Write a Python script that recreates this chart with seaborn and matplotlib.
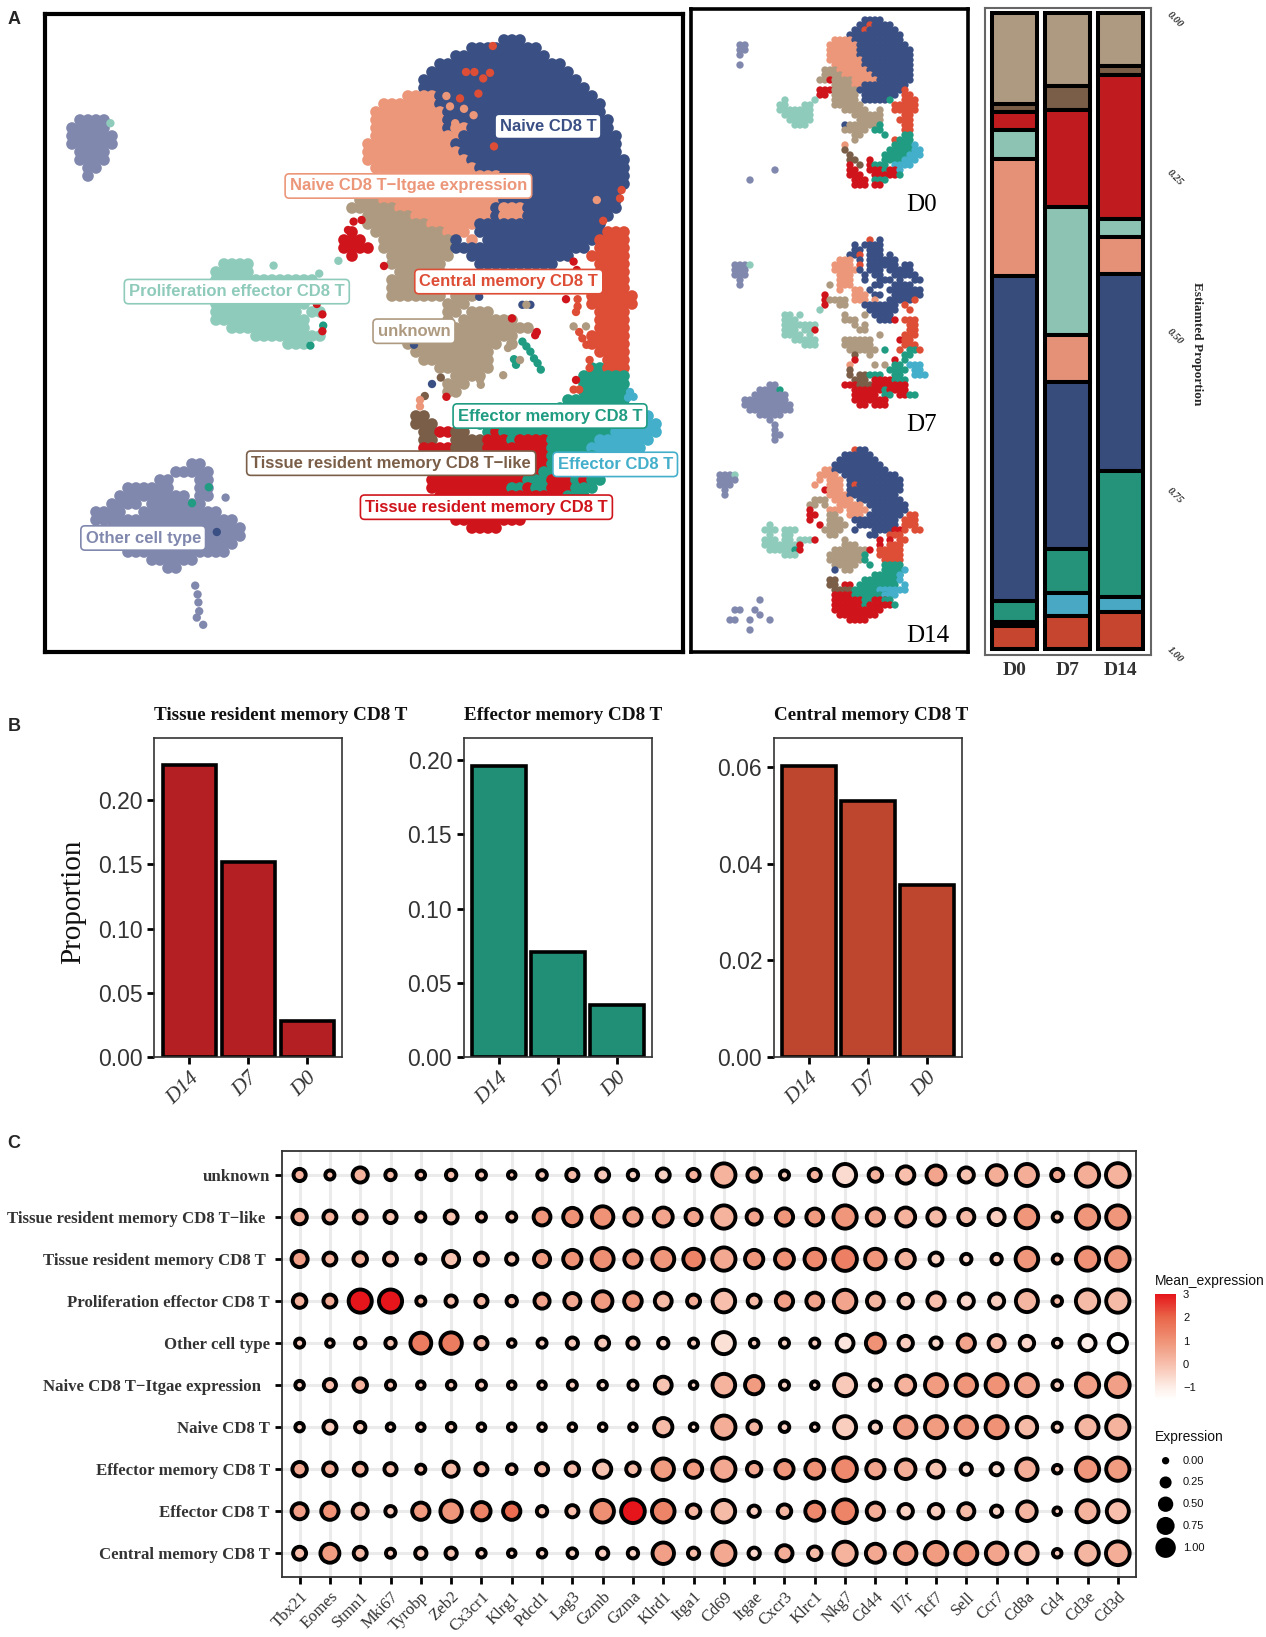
import numpy as np
import pandas as pd
import matplotlib
matplotlib.use('Agg')
import matplotlib.pyplot as plt
import seaborn as sns
from matplotlib.colors import LinearSegmentedColormap, Normalize
from matplotlib.cm import ScalarMappable

W, H = 1266, 1637

# colours of the cell types
cell_colors = {'n': '#3A4F83', 's': '#EC967A', 't': '#AE9A80', 'm': '#8FCBBB', 'r': '#D0141B',
               'o': '#DE4D35', 'g': '#1F9C82', 'b': '#43AFCB', 'w': '#7A5E48', 'v': '#8188AE'}

# main umap as (row, first column, cells)
main_rows = [
    (5, 63, 'nnn'), (6, 59, 'nnnnnnnnn'), (7, 57, 'nnnnnnnnnnnn'), (8, 55, 'nnnnnnnnnnnnnnnn'),
    (9, 54, 'nnnnnnnnnnnnnnnnnn'), (10, 53, 'nnnnnnnnnnnnnnnnnnnn'), (11, 53, 'nnnnnnnnnnnnnnnnnnnnn'),
    (12, 51, 'ssssnnnnnnnnnnnnnnnnnnnn'), (13, 48, 'sssssssnnnnnnnnnnnnnnnnnnnnn'),
    (14, 47, 'sssssssssnnnnnnnnnnnnnnnnnnnn'), (15, 47, 'sssssssssnnnnnnnnnnnnnnnnnnnnn'),
    (16, 47, 'sssssssssnssnnnnnnnnnnnnnnnnnn'), (17, 47, 'sssssssssssnnnnnnnnnnnnnnnnnnnn'),
    (18, 46, 'sssssssssssnnnnnnnnnnnnnnnnnnnnn'), (19, 46, 'ssssssssssssnnnnnnnnnnnnnnnnnnnn'),
    (20, 46, 'sssssssssssssnnnnnnnnnnnnnnnnnnnn'), (21, 47, 'sssssssssssssnnnnnnnnnnnnnnnnnnn'),
    (22, 48, 'sssssssssssssssnnnnnnnnnnnnnnnn'), (23, 48, 'sssssssssssssssnnnnnnnnnnnnnnnn'),
    (24, 46, 'tttssssssssssssssnnnnnnnnnnnnnnn'), (25, 45, 'tttsssssssssssssssnnnnnnnnnnnnnnn'),
    (26, 44, 'ttttttssssssssssssnsssnnnnnnnnnnnn'), (27, 46, 'ttttttssssssssssnsssnnnnnnnnnnn'),
    (28, 46, 'ttttttttssssssnnnnnnnnnnnnnnnn'), (29, 47, 'tttttttttsss nnnnnnnnnnnnnnnnooo'),
    (30, 48, 'tttttttttn s nnnnnnnnnnnnnnoooo'), (31, 48, 'tttttttttnnnnnnnnnnnnnnnnn oooo'),
    (32, 49, 'tttttttt  nnnnnnnnnnnnn  ooooo'), (33, 49, 'ttttttt    nnnnnnnnnn'), (33, 75, 'oooo'),
    (34, 50, 'tttttt'), (34, 75, 'oooo'), (35, 49, 'tttttt'), (35, 75, 'oooo'),
    (36, 49, 'tttttttttt'), (36, 75, 'oooo'), (37, 49, 'ttttttt ttt'), (37, 74, 'oooooo'),
    (38, 56, 'ttt'), (38, 74, 'oooooo'), (39, 56, 'tt ttt'), (39, 75, 'oooo'),
    (40, 56, 't ttttttt'), (40, 75, 'oooo'), (41, 57, 'tttttttttt'), (41, 75, 'oooo'),
    (42, 57, 'tttttttt'), (42, 74, 'ooooo'), (43, 51, 'tttttttttttt t'), (43, 74, 'ooooo'),
    (44, 52, 'tttttttttt'), (44, 75, 'oooo'), (45, 53, 'ttttttttt'), (45, 76, 'ooo'),
    (46, 55, 'ttttttt'), (46, 74, 'ggooo'), (47, 57, 'tttt'), (47, 73, 'gggggg'),
    (48, 56, 'ttt'), (48, 73, 'gggggg'), (49, 56, 'tt'), (49, 73, 'gggggg'),
    (50, 71, 'gggggggg'), (51, 70, 'ggggggggg'), (52, 52, 'ww'), (52, 70, 'gggggggggbbb'),
    (53, 52, 'www'), (53, 60, 'gggggggggggggggggggbbbb'), (54, 53, 'wwrrww'), (54, 61, 'grggggggggggggggbbbbbb'),
    (55, 53, 'ww'), (55, 57, 'wwww'), (55, 61, 'rrrgrrrrggggggbbbbbbb'),
    (56, 53, 'rrrrwwwwrrrrrrrrgggggbbbbbbb'), (57, 53, 'rrrrwwwwrrrrrrrrggggggbbbbb'),
    (58, 53, 'rrrrrrrrrrrrrrrrgggggggggg'), (59, 54, 'rrrrrrrrrrrrrrgggggggg'),
    (60, 54, 'rrrrrrrrrrrrgggrrrgrgg'), (61, 54, 'rrrrrrrrrrggrggrrrggg'),
    (62, 55, 'rrrrrrrrrrrrrrrrggg'), (63, 56, 'rrrrrrrrrrrrrr'), (64, 56, 'rrrrrrrrrrrrr'),
    (65, 57, 'rrrrrrrrr'), (66, 59, 'rrrr'),
    (29, 44, 'r'), (30, 43, 'rrr'), (31, 43, 'rrrr'), (32, 44, 'r'),
    (15, 10, 'vvvv'), (16, 9, 'vvvvv'), (17, 9, 'vvvvvv'), (18, 9, 'vvvvvv'), (19, 10, 'vvvv'),
    (20, 10, 'vvvv'), (21, 11, 'vv'), (22, 11, 'v'),
    (33, 28, 'mmmm'), (34, 27, 'mmmmm'), (35, 27, 'mmmmmmmmmmmmm'), (36, 27, 'mmmmmmmmmmmmm'),
    (37, 27, 'mmmmmmmmmmmmmm'), (38, 27, 'mmmmmmmmmmmm'), (39, 27, 'mmmmmmmmmmm mm'),
    (40, 27, 'mmmmmmmmmmmm'), (41, 29, 'mmmmmmmmmm'), (42, 32, 'mmmmmmmmm'), (43, 36, 'mmm'),
    (58, 24, 'vv'), (59, 22, 'vvvvv'), (60, 20, 'vv'), (60, 25, 'vv'), (61, 16, 'vvvvvv'), (61, 25, 'vv'),
    (62, 15, 'vvvvvvvvv'), (62, 25, 'vv'), (63, 14, 'vvvv vvvvvvv'), (64, 12, 'vvvv  vvvvvvvvvv'),
    (65, 12, 'vvvvvvvvvvvvvvvvvv'), (66, 14, 'vvvvvvvvvvvvvvvvv'),
    (67, 12, 'vvvvvvvvvvvvvvvvvvv'), (68, 15, 'vvvvvvvvvvvvvvv'), (69, 16, 'vvvvvvvvvvvvv'),
    (70, 19, 'vvvvvv'), (71, 21, 'vv'),
]

# single cells of the main umap as (cell, column, row)
main_dots = [
    ('o', 61.6, 5.75), ('o', 58.25, 9), ('o', 59.3, 9), ('o', 61.25, 9.1), ('o', 60.4, 9.8), ('o', 59.8, 11.7),
    ('o', 57.5, 12.3), ('o', 61.75, 18.3), ('o', 77.5, 24.8), ('o', 77.7, 23.75), ('o', 75.4, 27.6),
    ('s', 56.25, 13.3), ('s', 58, 13.6), ('s', 55.8, 12), ('s', 59.2, 14.4), ('s', 56.9, 15.4), ('s', 57.5, 20), ('s', 74.6, 25),
    ('r', 48, 33.25), ('r', 43.5, 28.75), ('r', 44.2, 27.7), ('r', 45.2, 27.5), ('r', 70.75, 37.4), ('r', 67.1, 41.5),
    ('r', 66.9, 41.9), ('r', 64, 39.8), ('r', 71.7, 32.7), ('r', 72.1, 33.75),
    ('n', 65.3, 38.1), ('n', 66.3, 38.1), ('t', 65.8, 38.1), ('n', 59.9, 37.1),
    ('o', 72.2, 37.4), ('o', 72.2, 38.3), ('o', 72, 39), ('o', 72.4, 41.5), ('o', 72.8, 42.3), ('o', 73.3, 43.1),
    ('t', 71.7, 40.8), ('t', 73.25, 40.8),
    ('g', 65.3, 42.7), ('g', 65.8, 43.3), ('g', 66.3, 43.96), ('g', 66.75, 44.8), ('g', 67.2, 45.4), ('g', 67.6, 46.2),
    ('g', 64.25, 44.9), ('g', 64.5, 45.6), ('t', 65, 45), ('t', 63.5, 43.5), ('t', 62.9, 46.9), ('t', 60.1, 48.1), ('t', 60, 47.5),
    ('n', 54, 48), ('n', 51.75, 43.1), ('w', 55.1, 47.2), ('r', 55.8, 49.6), ('w', 53.1, 49.5), ('s', 52.5, 50), ('s', 52.5, 50.8),
    ('o', 73.7, 45), ('o', 73.7, 46), ('r', 72, 47.5), ('o', 71.7, 48.7), ('o', 72.4, 48.7),
    ('b', 78.75, 49), ('b', 78.5, 49.7), ('b', 79.2, 49.6),
    ('m', 42.3, 32.6), ('m', 34.2, 33.2), ('m', 39.9, 34.2), ('r', 39.6, 38), ('r', 40.3, 39.3), ('g', 40.4, 40.7), ('r', 40.3, 41.4),
    ('g', 38.8, 43.2), ('m', 13.8, 15.4),
    ('v', 28.2, 62.2), ('v', 24.4, 73.2), ('v', 24.7, 74.3), ('v', 24.8, 75.3), ('v', 24.9, 76.4), ('v', 24.6, 77.2), ('v', 25.4, 78.1),
    ('g', 26.1, 60.9), ('g', 24, 62.9), ('n', 27.1, 66.5),
]

# labels of the main umap
label_names = ['Naive CD8 T', 'Naive CD8 T\u2212Itgae expression', 'Proliferation effector CD8 T', 'Central memory CD8 T',
               'unknown', 'Effector memory CD8 T', 'Tissue resident memory CD8 T\u2212like', 'Effector CD8 T',
               'Tissue resident memory CD8 T', 'Other cell type']
label_cells = ['n', 's', 'm', 'o', 't', 'g', 'w', 'b', 'r', 'v']
label_cols = [68.5, 51.05, 29.6, 63.6, 51.75, 68.75, 48.9, 76.9, 60.8, 17.9]
label_rows = [15.8, 23.25, 36.45, 35.2, 41.4, 52.0, 57.9, 58.05, 63.4, 67.25]

# small umaps, one list per day
d0_rows = [
    (2, 35, 'nnnn'), (3, 34, 'nnonnnn'), (4, 33, 'nnonnnnnn'), (5, 32, 'nnnnnnnnnnn'), (6, 29, 'ssssnnnnnnnnnn'),
    (7, 28, 'ssssssnnnnnnnnnn'), (8, 28, 'ssssssnnnnnnnnnnn'), (9, 28, 'ssssssnnnnnnnnnnn'), (10, 28, 'sssssssnnnnnnnnnn'),
    (11, 29, 'ssssssnnnnnnnnnn'), (12, 27, 'tttssssssnnnnnnnnn'), (13, 27, 'ttttssssssnnnnnnnn'), (14, 26, 'ttrttttsssssnnnnnnn'),
    (15, 29, 'ttttssnnnnnnnnn'), (16, 26, 'rrr'), (16, 29, 'tttttnnnnnnnnno'), (17, 26, 'rr'), (17, 29, 'ttttt'),
    (17, 35, 'nnnnnnn'), (17, 43, 'oo'), (18, 29, 'ttttt'), (18, 35, 'nnnnn'), (18, 40, 'g'), (18, 43, 'ooo'),
    (19, 29, 'tttttt'), (19, 41, 'ooooo'), (20, 31, 'ttttt'), (20, 38, 't'), (20, 41, 'ooooo'), (21, 33, 'tttttt'), (21, 43, 'oo'),
    (22, 34, 'ttttt'), (22, 42, 'ooo'), (23, 31, 'ntttttt'), (23, 38, 'g'), (23, 43, 'oo'), (24, 31, 'ttttt'), (24, 37, 'gg'),
    (24, 43, 'oo'), (25, 33, 'tt'), (25, 39, 'g'), (25, 43, 'gg'), (26, 33, 't'), (26, 41, 'oggg'), (27, 31, 's'), (27, 41, 'ggggb'),
    (28, 31, 'w'), (28, 40, 'gggggbb'), (29, 32, 'w'), (29, 39, 'gggggbbb'), (30, 32, 'ww'), (30, 36, 'r'), (30, 39, 'ggggbbb'),
    (31, 32, 'r'), (31, 34, 'w'), (31, 36, 'r'), (31, 37, 'ggg'), (31, 41, 'bbbb'), (32, 32, 'rr'), (32, 36, 'rrrgrrb'),
    (33, 32, 'rrr'), (33, 37, 'rrr'), (33, 40, 'rr'), (33, 42, 'g'), (34, 33, 'rrr'), (34, 37, 'ggg'), (35, 33, 'rrr'), (35, 37, 'rr'),
    (7, 10, 'vv'), (8, 10, 'vv'), (9, 10, 'v'), (11, 10, 'v'), (32, 17, 'v'), (34, 12, 'v'),
    (18, 19, 'm'), (18, 25, 'm'), (19, 18, 'mm'), (19, 23, 'mm'), (20, 18, 'mmmmmmm'), (21, 19, 'mmmmmm'), (22, 20, 'mmmmm'), (23, 21, 'mmm'),
]
d7_rows = [
    (3, 36, 'o n'), (4, 33, 'n nnnn'), (5, 33, 'nn nnn'), (6, 32, 'nno nnn n'), (7, 30, 'sss n nnnnnn'), (8, 29, 'ssss o nnnnnn nn'),
    (9, 29, 'sssssn nnn nnnnn'), (10, 30, 'sss  n nn  nnnnn'), (11, 30, 'sss  n  nnn n  nn'), (12, 28, 't ' 'sss    nn  nnnn'),
    (13, 30, 's  ss n   nnnnnnn'), (14, 27, 'r     sss nn  nnnnnn'), (15, 27, 'rtttt sss s  nnnnno'), (16, 27, 'r  tt   nnnnnnn o'),
    (17, 26, 'm'), (17, 36, 'nnnnnn'), (17, 44, 'o'), (18, 19, 'mm'), (18, 22, 'm'), (18, 31, 't'), (18, 35, 't'), (18, 37, 'nnnn'),
    (19, 19, 'mmm'), (19, 31, 'ttt'), (19, 38, 'nnn'), (19, 41, 'r'), (19, 43, 'ooo'), (20, 19, 'mmmmmmm'), (20, 33, 't'), (20, 35, 't'),
    (20, 44, 'oo'), (21, 19, 'mmm'), (21, 23, 'mm'), (21, 25, 'r'), (21, 34, 'tt'), (21, 44, 'oo'), (22, 19, 'mmmm'), (22, 24, 'm'),
    (22, 38, 't'), (22, 43, 'ooo'), (23, 21, 'mmmmm'), (23, 31, 'tttttt'), (23, 42, 'roo'), (24, 23, 'mmm'), (24, 31, 'tttttt'), (24, 43, 'ooo'),
    (25, 32, 'tttttt'), (25, 39, 'g'), (25, 42, 'o ggo'), (26, 33, 'w  t'), (26, 43, 'gg'), (27, 33, 'r'), (27, 41, 'r g'), (28, 32, 's    t t'),
    (28, 41, 'gg'), (28, 44, 'bbb'), (29, 32, 'w'), (29, 40, 'ggg'), (29, 43, 'g bb'), (30, 32, 'w ww'), (30, 36, 'ggg'), (30, 41, 'gg'),
    (30, 45, 'bbb'), (31, 33, 'www'), (31, 37, 'rrrrggg'), (32, 31, 'rrrwwwrrrrrrr'), (33, 33, 'rrrrrrgrrrr'), (34, 33, 'rrrrr gg rrgg'),
    (35, 33, 'rrrrrrr'), (36, 34, 'rr rrr'),
    (8, 9, 'vvvm'), (9, 9, 'vvv'), (10, 9, 'vvv'), (11, 10, 'v'), (12, 10, 'v'),
    (32, 16, 'vv'), (33, 14, 'vvvvg'), (34, 13, 'vvvvvvv'), (35, 11, 'vvvvvvvvv'), (36, 11, 'vvvvvvvvvv'), (37, 12, 'vvvvvvvvv'),
    (38, 14, 'vvvvv'), (39, 16, 'v'), (40, 17, 'v'), (41, 17, 'v'), (42, 17, 'vv'), (43, 17, 'v'),
]
d14_rows = [
    (3, 33, 'onn'), (4, 31, 'nnnnnn'), (5, 30, 'nnnnnnnn'), (6, 29, 'nnnnnnnnnn'), (7, 27, 'ssnnnnnnnnnnn'), (8, 26, 'ssss nnnnnnnnnnn'),
    (9, 26, 's sss nnnnnnnnnnn'), (10, 25, 's  sss nonnnnnnnnn'), (11, 27, 'rsss nnnnnnnnnnn'), (12, 28, 'ssssnnnnnnnnnn'),
    (13, 25, 'ttt ssss nnnnnnnnn'), (14, 24, 'tt t  sssss nnnnnnnn'), (15, 24, 'r   sss ssss nnnnnnn'), (16, 24, 'rr  tt  sss nnnnnnn oo'),
    (17, 24, 'r   ttt  nnnnnnnnn ooo'), (18, 26, 'r tttt  nnnnnnnn ooo'), (19, 27, 'tttt  n   nnnnrro oo'), (20, 28, 'tt'), (20, 36, 'nn'), (20, 40, 'ooo'),
    (21, 31, 't'), (21, 38, 'r r oo'), (22, 31, 'ttt'), (22, 38, 'r'), (22, 40, 'ooo'), (23, 29, 'tttttttr'), (23, 38, 'ooooo'),
    (24, 28, 'ttttttt'), (24, 35, 'g'), (24, 38, 'ooooo'), (25, 28, 'ttttttt'), (25, 35, 'g'), (25, 39, 'oooo'), (26, 29, 'ttttt'), (26, 36, 'g'),
    (26, 39, 'gggg'), (27, 29, 'n tt'), (27, 39, 'ggggb'), (28, 37, 'gggggg'), (28, 42, 'b'), (29, 28, 'ww'), (29, 35, 'ggggggg'), (29, 42, 'b'),
    (30, 28, 'ww rr'), (30, 34, 'gggggggg'), (30, 43, 'b'), (31, 29, 'wwww'), (31, 33, 'gggggbbbbbb'), (32, 29, 'rrrrggggggg'), (32, 39, 'bbb'),
    (33, 29, 'rrrrrrggrrr'), (33, 39, 'gg'), (34, 29, 'rrrrrrgrrrrrg'), (35, 29, 'rrrrrrrrrr'), (36, 30, 'rrrrrrrr'), (37, 32, 'rrrr'),
    (8, 6, 'vvvm'), (9, 6, 'vvvv'), (10, 6, 'vvv'), (11, 7, 'v'), (12, 7, 'v'),
    (33, 14, 'v'), (35, 9, 'vv'), (35, 13, 'v'), (36, 14, 'v'), (37, 8, 'vv'), (37, 12, 'v'), (37, 16, 'v'), (39, 12, 'v'),
    (18, 16, 'm'), (19, 15, 'mmm'), (19, 19, 'mm'), (19, 21, 'm'), (20, 16, 'm'), (20, 19, 'mm'), (21, 15, 'mmm mm mmmr'),
    (22, 15, 'mmmmmmmr'), (23, 16, 'mmmmmgr'), (24, 19, 'mmm'),
]
small_panels = [('D0', d0_rows, 2), ('D7', d7_rows, 45), ('D14', d14_rows, 87)]

# stacked proportions, top to bottom
stack_days = ['D0', 'D7', 'D14']
stack_colors = ['#AD9A80', '#7A5E47', '#C01C20', '#8CC3B3', '#E49178', '#384C7B', '#24937A', '#49A8C4', '#C5452E']
stack_d0 = [0.143, 0.013, 0.028, 0.045, 0.184, 0.512, 0.033, 0.007, 0.035]
stack_d7 = [0.114, 0.038, 0.153, 0.202, 0.073, 0.263, 0.070, 0.035, 0.052]
stack_d14 = [0.084, 0.014, 0.226, 0.029, 0.057, 0.311, 0.197, 0.024, 0.058]

# panel B
bar_days = ['D14', 'D7', 'D0']
bar_titles = ['Tissue resident memory CD8 T', 'Effector memory CD8 T', 'Central memory CD8 T']
bar_values = [[0.227, 0.152, 0.028], [0.196, 0.071, 0.035], [0.0603, 0.0530, 0.0357]]
bar_colors = ['#B41F24', '#218F76', '#BF462E']
bar_ticks = [[0, 0.05, 0.10, 0.15, 0.20], [0, 0.05, 0.10, 0.15, 0.20], [0, 0.02, 0.04, 0.06]]
bar_tops = [0.2484, 0.215, 0.0661]

# panel C
genes = ['Tbx21', 'Eomes', 'Stmn1', 'Mki67', 'Tyrobp', 'Zeb2', 'Cx3cr1', 'Klrg1', 'Pdcd1', 'Lag3', 'Gzmb', 'Gzma', 'Klrd1', 'Itga1',
         'Cd69', 'Itgae', 'Cxcr3', 'Klrc1', 'Nkg7', 'Cd44', 'Il7r', 'Tcf7', 'Sell', 'Ccr7', 'Cd8a', 'Cd4', 'Cd3e', 'Cd3d']
dot_cells = ['unknown', 'Tissue resident memory CD8 T\u2212like ', 'Tissue resident memory CD8 T ', 'Proliferation effector CD8 T',
             'Other cell type', 'Naive CD8 T\u2212Itgae expression  ', 'Naive CD8 T', 'Effector memory CD8 T', 'Effector CD8 T', 'Central memory CD8 T']
dot_pct = [
    [.18, .05, .34, .10, .03, .10, .05, 0, .07, .18, .22, .10, .22, .18, .96, .25, .05, .18, .85, .25, .48, .60, .34, .65, .85, .18, .96, 1],
    [.30, .22, .22, .18, .05, .22, .05, .05, .45, .55, .80, .48, .60, .40, .96, .34, .48, .45, .96, .48, .60, .48, .40, .40, .90, .05, .96, .96],
    [.40, .22, .25, .22, .05, .40, .22, .14, .40, .55, .85, .48, .85, .72, .96, .55, .60, .72, 1, .72, .55, .22, .10, .10, .90, .05, .96, 1],
    [.25, .22, .95, .95, .05, .14, .18, .10, .34, .40, .65, .50, .45, .22, .90, .22, .48, .45, .90, .45, .30, .48, .34, .34, .85, .07, .96, .96],
    [.05, 0, .10, .10, .75, .80, .18, 0, .05, .14, .22, .14, .10, .05, .85, .03, .05, .05, .45, .60, .30, .14, .48, .40, .30, .03, .40, .55],
    [.03, .18, .25, .05, 0, .03, .05, 0, 0, .05, .03, .05, .45, 0, .90, .55, .05, 0, .85, .14, .60, .85, .80, .85, .85, .07, .96, 1],
    [.03, .22, .10, 0, 0, .03, 0, 0, 0, 0, 0, 0, .55, 0, .96, .25, .07, 0, .85, .14, .80, .85, .80, .85, .72, .05, .85, .96],
    [.30, .25, .22, .18, .05, .34, .18, .07, .18, .25, .48, .25, .80, .48, .96, .30, .55, .60, 1, .55, .65, .45, .14, .18, .80, .03, .96, .96],
    [.40, .48, .34, .10, .48, .80, .55, .48, .10, .18, .90, 1, .90, .25, .90, .14, .25, .60, 1, .48, .30, .30, .40, .14, .65, 0, .85, .85],
    [.22, .60, .22, .05, .14, .14, .03, 0, .03, .07, .14, .10, .80, .14, .96, .14, .40, .25, .96, .60, .80, .90, .85, .80, .80, .03, .90, 1],
]
dot_mean = [
    [.3, 0, .3, .1, 0, 0, -.1, 0, -.1, .1, -.2, -.3, -.4, .3, .3, .4, -.2, .3, -.6, .3, 0, .6, -.1, .4, .4, .5, .4, .3],
    [.4, .3, .1, -.1, 0, -.1, 0, -.1, .9, 1, 1, .6, .6, .6, .3, .6, .9, .8, .9, .5, .3, .1, .1, -.3, .9, -.1, .9, .9],
    [.7, .3, .3, 0, 0, -.1, .1, -.1, .8, 1, 1.1, .9, .9, 1.3, .5, .9, 1, 1.2, 1.4, .9, .3, -.4, -.5, -.3, .9, 0, 1, .9],
    [.3, .4, 3, 3, .2, 0, .2, .1, .6, .5, .8, .8, .1, .4, 0, .1, .7, .6, .6, .2, -.3, 0, -.5, -.3, .2, .1, .1, .1],
    [-.3, -.3, -.4, -.1, 1.5, 1.5, .2, -.2, -.3, -.2, -.2, -.2, -.5, -.3, -.7, -.3, -.4, -.3, -.8, 1, -.3, -.5, .6, 0, -.5, -.6, -1, -1.5],
    [-.4, 0, .3, -.1, -.2, -.2, -.2, -.3, -.4, -.3, -.5, -.5, -.1, -.4, .3, .8, -.4, -.5, -.2, -.4, .3, .8, .9, 1, .6, -.3, .7, .7],
    [-.4, -.3, -.2, -.4, -.3, -.3, -.4, -.4, -.5, -.4, -.5, -.6, .1, -.6, .4, .2, -.3, -.5, -.3, -.4, .7, .8, .9, 1, .1, -.4, .2, .3],
    [.5, .4, .3, 0, 0, .1, .3, 0, .1, .1, -.1, .1, .8, .8, .5, .5, .9, 1, 1.2, .6, .4, -.1, -.6, -.6, .4, -.2, .9, .8],
    [.7, 1, .2, -.2, .8, .9, 1.3, 1.9, -.1, 0, 1.1, 3, 1.3, .2, .1, -.3, .2, 1.2, 1.3, .4, -.4, -.3, .1, -.4, .2, -.2, .3, 0],
    [0, .8, .1, -.3, -.3, -.1, -.4, -.4, -.4, -.4, -.3, -.4, .7, .1, .5, -.5, .4, .1, .3, .5, .7, .8, .9, .6, 0, -.2, .2, .4],
]
mean_ticks = [-1, 0, 1, 2, 3]
pct_ticks = [0.0, 0.25, 0.5, 0.75, 1.0]


def px_axes(x0, y0, x1, y1):
    # axes placed by picture pixels
    return fig.add_axes([x0 / W, 1 - y1 / H, (x1 - x0) / W, (y1 - y0) / H])


def rows_to_df(rows, row_shift=0, col_shift=0):
    recs = []
    for r, c0, cells in rows:
        for i, ch in enumerate(cells):
            if ch != ' ':
                recs.append((c0 + i + col_shift, r + row_shift, ch))
    return pd.DataFrame(recs, columns=['col', 'row', 'cell'])


def frame(ax, lw, color='black'):
    for sp in ax.spines.values():
        sp.set_visible(True)
        sp.set_linewidth(lw)
        sp.set_color(color)
    ax.set_xticks([])
    ax.set_yticks([])
    ax.set_xlabel('')
    ax.set_ylabel('')


sns.set_style('white')
plt.rcParams['font.family'] = ['Liberation Sans', 'DejaVu Sans']
SERIF = ['Liberation Serif', 'DejaVu Serif']

fig = plt.figure(figsize=(W / 100, H / 100), dpi=100)

# ---- A: main umap
ax = px_axes(44.6, 14, 683, 652)
sns.scatterplot(data=rows_to_df(main_rows), x='col', y='row', hue='cell', palette=cell_colors, s=70, linewidth=0, legend=False, ax=ax)
dots = pd.DataFrame(main_dots, columns=['cell', 'col', 'row'])
sns.scatterplot(data=dots, x='col', y='row', hue='cell', palette=cell_colors, s=36, linewidth=0, legend=False, ax=ax)
ax.set_xlim(44.6 / 8, 683 / 8)
ax.set_ylim(652 / 8, 14 / 8)
frame(ax, 3.0)
for name, cell, c, r in zip(label_names, label_cells, label_cols, label_rows):
    ax.text(c, r, name, color=cell_colors[cell], fontsize=12, fontweight='bold', ha='center', va='center', zorder=5,
            bbox=dict(boxstyle='round,pad=0.28,rounding_size=0.25', fc='white', ec=cell_colors[cell], lw=1.2))

# ---- A: umap per day
ax = px_axes(690.5, 9, 967.7, 652)
small = pd.concat([rows_to_df(rows, row_shift=shift) for _, rows, shift in small_panels])
sns.scatterplot(data=small, x='col', y='row', hue='cell', palette=cell_colors, s=28, linewidth=0, legend=False, ax=ax)
ax.set_xlim(0.1, 55.54)
ax.set_ylim(652 / 5, 9 / 5)
frame(ax, 2.6)
for (name, _, shift), c, r in zip(small_panels, [46.4, 46.4, 47.6], [39, 40, 40.3]):
    ax.text(c, r + shift, name, fontsize=18, family=SERIF, ha='center', va='center', color='black')

# ---- A: stacked proportions
ax = px_axes(984.6, 8, 1151, 655)
bottoms = np.zeros(3)
for i, color in enumerate(stack_colors):
    seg = np.array([stack_d0[i], stack_d7[i], stack_d14[i]])
    sns.barplot(x=stack_days, y=seg, bottom=bottoms, color=color, saturation=1, width=0.86,
                edgecolor='black', linewidth=2.9, ax=ax)
    bottoms = bottoms + seg
ax.set_xlim(-0.568, 2.572)
ax.set_ylim(1.01, -0.008)
for sp in ax.spines.values():
    sp.set_visible(True)
    sp.set_linewidth(1.5)
    sp.set_color('#666666')
ax.yaxis.tick_right()
ax.set_yticks([0, 0.25, 0.5, 0.75, 1.0])
ax.set_yticklabels(['0.00', '0.25', '0.50', '0.75', '1.00'], rotation=-45, fontsize=7.5, family=SERIF,
                   fontstyle='italic', fontweight='bold', color='#333333')
ax.tick_params(axis='y', length=0, pad=10)
ax.tick_params(axis='x', length=0, pad=5)
ax.set_xticks([0, 1, 2])
ax.set_xticklabels(stack_days, fontsize=14, family=SERIF, fontweight='bold', color='#333333')
ax.set_ylabel('')
fig.text(1197 / W, 1 - 343.6 / H, 'Estiamted Proportion', rotation=-90, fontsize=9.5, family=SERIF, fontweight='bold',
         ha='center', va='center')

# ---- B: bars
bar_x0 = [154.3, 464, 774]
for i in range(3):
    ax = px_axes(bar_x0[i], 738, bar_x0[i] + 188, 1057)
    sns.barplot(x=bar_days, y=bar_values[i], color=bar_colors[i], saturation=1, width=0.9, edgecolor='black', linewidth=2.6, ax=ax)
    ax.set_xlim(-0.593, 2.593)
    ax.set_ylim(0, bar_tops[i])
    for sp in ax.spines.values():
        sp.set_visible(True)
        sp.set_linewidth(1.2)
        sp.set_color('#333333')
    ax.set_yticks(bar_ticks[i])
    ax.set_yticklabels(['%.2f' % t for t in bar_ticks[i]], fontsize=16.5, color='#333333')
    ax.set_xticks([0, 1, 2])
    ax.set_xticklabels(bar_days, rotation=45, ha='right', rotation_mode='anchor', fontsize=15.5, family=SERIF,
                       fontstyle='italic', color='#333333')
    ax.tick_params(axis='both', length=5, width=2, color='black', left=True, bottom=True)
    ax.set_title(bar_titles[i], loc='left', pad=13, fontsize=13.8, family=SERIF, fontweight='bold', color='#111111')
fig.text(73 / W, 1 - 902 / H, 'Proportion', rotation=90, fontsize=21, family=SERIF, ha='center', va='center', color='#111111')

# ---- C: dot plot
mean_low, mean_high = -1.54, 3
cmap = LinearSegmentedColormap.from_list('mean_expr', [
    (0.0, '#FFFFFF'), (0.119, '#FDEEE8'), (0.339, '#F7BFAC'), (0.559, '#EF9276'), (0.78, '#E9664A'), (1.0, '#E6151B')])
norm = Normalize(mean_low, mean_high)

ax = px_axes(281.6, 1150.7, 1136, 1577)
ax.set_axisbelow(True)
dot_df = pd.DataFrame({
    'gene': np.tile(np.arange(len(genes)), len(dot_cells)),
    'cell': np.repeat(np.arange(len(dot_cells)), len(genes)),
    'pct': np.ravel(dot_pct),
    'mean': np.ravel(dot_mean),
})
sns.scatterplot(data=dot_df, x='gene', y='cell', size='pct', sizes=(30, 290), size_norm=(0, 1), hue='mean', palette=cmap,
                hue_norm=norm, edgecolor='black', linewidth=2.8, legend=False, ax=ax, zorder=3)
ax.set_xlim(-0.594, 27.6)
ax.set_ylim(9.565, -0.578)
ax.set_xticks(range(len(genes)))
ax.set_xticklabels(genes, rotation=45, ha='right', rotation_mode='anchor', fontsize=12, family=SERIF, color='#333333')
ax.set_yticks(range(len(dot_cells)))
ax.set_yticklabels(dot_cells, fontsize=12.1, family=SERIF, fontweight='bold', color='#333333')
ax.tick_params(axis='both', length=5, width=2, color='black', left=True, bottom=True)
ax.grid(True, color='#EBEBEB', linewidth=2.2)
ax.set_xlabel('')
ax.set_ylabel('')
for sp in ax.spines.values():
    sp.set_visible(True)
    sp.set_linewidth(1.3)
    sp.set_color('#333333')

# legend of C
fig.text(1154.6 / W, 1 - 1280.7 / H, 'Mean_expression', fontsize=10, va='center', color='#111111')
cax = px_axes(1154.6, 1294, 1176, 1400)
cb = fig.colorbar(ScalarMappable(norm=norm, cmap=cmap), cax=cax, ticks=mean_ticks)
cb.outline.set_visible(False)
cb.ax.set_yticklabels(['\u22121', '0', '1', '2', '3'], fontsize=8, color='#111111')
cb.ax.tick_params(length=0, pad=5)

fig.text(1154.6 / W, 1 - 1436.7 / H, 'Expression', fontsize=10, va='center', color='#111111')
lax = px_axes(1154.6, 1449, 1260, 1559)
leg_df = pd.DataFrame({'pct': pct_ticks, 'pos': np.arange(len(pct_ticks))})
leg_df['xpos'] = 0
sns.scatterplot(data=leg_df, x='xpos', y='pos', size='pct', sizes=(28, 216), size_norm=(0, 1), color='black', linewidth=0, legend=False, ax=lax)
lax.set_xlim(-11 / 21.0, 94.4 / 21.0)
lax.set_ylim(4.52, -0.538)
lax.axis('off')
for p, t in zip(leg_df['pos'], pct_ticks):
    lax.text(17.4 / 21.0, p, '%.2f' % t, fontsize=8, va='center', color='#111111')

# panel letters
for letter, y in zip('ABC', [19, 727, 1144]):
    fig.text(14 / W, 1 - y / H, letter, fontsize=13, fontweight='bold', ha='center', va='center')

plt.savefig('out.png', dpi=100)
